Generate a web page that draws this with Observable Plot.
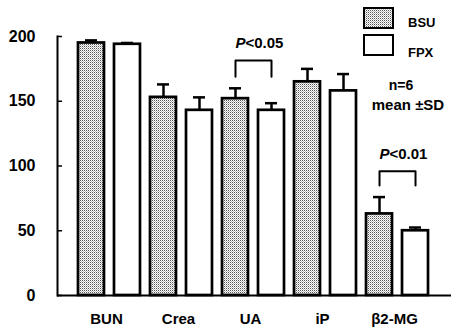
<!DOCTYPE html>
<html><head><meta charset="utf-8">
<script src="https://cdn.jsdelivr.net/npm/d3@7"></script>
<script src="https://cdn.jsdelivr.net/npm/@observablehq/plot@0.6"></script>
<style>
body{margin:0;background:#fff;}
#wrap{position:relative;width:452px;height:332px;}
#overlay{position:absolute;left:0;top:0;pointer-events:none;}
#overlay text{font-family:"Liberation Sans",Arial,sans-serif;font-weight:bold;fill:#000;}
</style></head><body>
<div id="wrap"></div>
<script>
const categories = ["BUN", "Crea", "UA", "iP", "β2-MG"];
const series = ["BSU", "FPX"];
const bsuMean = [195, 153, 152, 165, 63];
const bsuSD = [2, 10, 8, 10, 13];
const fpxMean = [194, 143, 143, 158, 50];
const fpxSD = [1, 10, 5.5, 13, 2.5];
const yTicks = [0, 50, 100, 150, 200];
const pCategories = ["UA", "β2-MG"];
const pLabels = ["<0.05", "<0.01"];
const bracketTop = [181.5, 96];
const bracketBottom = [169, 85];
const notes = ["n=6", "mean ±SD"];

const rows = categories.flatMap((c, i) => [
  {key: c + "|" + series[0], cat: c, series: series[0], mean: bsuMean[i], sd: bsuSD[i]},
  {key: c + "|" + series[1], cat: c, series: series[1], mean: fpxMean[i], sd: fpxSD[i]}
]);
const keys = rows.map(d => d.key);
const firstKeys = rows.filter(d => d.series === series[0]).map(d => d.key);
const brackets = pCategories.flatMap((c, i) => [
  {g: i, x: c + "|" + series[0], y: bracketBottom[i]},
  {g: i, x: c + "|" + series[0], y: bracketTop[i]},
  {g: i, x: c + "|" + series[1], y: bracketTop[i]},
  {g: i, x: c + "|" + series[1], y: bracketBottom[i]}
]);
const pText = pCategories.map((c, i) => ({x: c + "|" + series[0], y: bracketTop[i], label: pLabels[i]}));

const font = "Liberation Sans, Arial, sans-serif";
const chart = Plot.plot({
  width: 452, height: 332,
  marginLeft: 57, marginRight: 3, marginTop: 36, marginBottom: 37,
  style: {fontFamily: font, fontWeight: "bold", background: "#fff", color: "#000"},
  x: {type: "band", domain: keys, paddingInner: 0.278, paddingOuter: 0.583, round: false},
  y: {domain: [0, 200]},
  marks: [
    Plot.ruleX(rows, {x: "key", y1: "mean", y2: d => d.mean + d.sd, stroke: "#000", strokeWidth: 2.5}),
    Plot.tickY(rows, {x: "key", y: d => d.mean + d.sd, insetLeft: 7, insetRight: 7, stroke: "#000", strokeWidth: 2.5}),
    Plot.barY(rows, {filter: d => d.series === series[0], x: "key", y: "mean", fill: "url(#stipple)", stroke: "#000", strokeWidth: 2.7}),
    Plot.barY(rows, {filter: d => d.series === series[1], x: "key", y: "mean", fill: "#fff", stroke: "#000", strokeWidth: 2.7}),
    Plot.ruleY([0], {stroke: "#000", strokeWidth: 2, insetRight: -2}),
    Plot.frame({anchor: "left", stroke: "#000", strokeWidth: 2}),
    Plot.axisY(yTicks, {anchor: "left", tickSize: 5, dx: 5, text: null, stroke: "#000", strokeWidth: 1.5}),
    Plot.axisY(yTicks, {anchor: "left", tickSize: 0, tickPadding: 22, fontSize: 16, fontWeight: "bold", fill: "#000"}),
    Plot.axisX(firstKeys, {anchor: "bottom", tickSize: 0, tickPadding: 18, dx: 15, fontSize: 15, fontWeight: "bold", fill: "#000", tickFormat: k => k.split("|")[0]}),
    Plot.line(brackets, {x: "x", y: "y", z: "g", stroke: "#000", strokeWidth: 2}),
    Plot.text(pText, {x: "x", y: "y", text: () => "P", dx: 10, dy: -12, textAnchor: "end", lineAnchor: "bottom", fontStyle: "italic", fontSize: 15, fill: "#000"}),
    Plot.text(pText, {x: "x", y: "y", text: "label", dx: 10, dy: -12, textAnchor: "start", lineAnchor: "bottom", fontSize: 15, fill: "#000"})
  ]
});

const svgNS = "http://www.w3.org/2000/svg";
const defs = document.createElementNS(svgNS, "defs");
defs.innerHTML = '<pattern id="stipple" width="2" height="2" patternUnits="userSpaceOnUse">' +
  '<rect width="2" height="2" fill="#fff"/><rect width="1" height="1" fill="#555"/><rect x="1" y="1" width="1" height="1" fill="#bbb"/></pattern>';
chart.insertBefore(defs, chart.firstChild);

const wrap = document.getElementById("wrap");
wrap.appendChild(chart);

// legend and notes overlay
const ov = d3.select(wrap).append("svg").attr("id", "overlay").attr("width", 452).attr("height", 332);
const legendFill = ["url(#stipple)", "#fff"];
series.forEach((s, i) => {
  ov.append("rect").attr("x", 364).attr("y", 8 + i * 27).attr("width", 29).attr("height", 20)
    .attr("fill", legendFill[i]).attr("stroke", "#000").attr("stroke-width", 2);
  ov.append("text").attr("x", 408).attr("y", 27 + i * 30).attr("font-size", 13).text(s);
});
ov.append("text").attr("x", 401).attr("y", 90).attr("text-anchor", "middle").attr("font-size", 14).text(notes[0]);
ov.append("text").attr("x", 408).attr("y", 110).attr("text-anchor", "middle").attr("font-size", 15).text(notes[1]);
</script>
</body></html>
